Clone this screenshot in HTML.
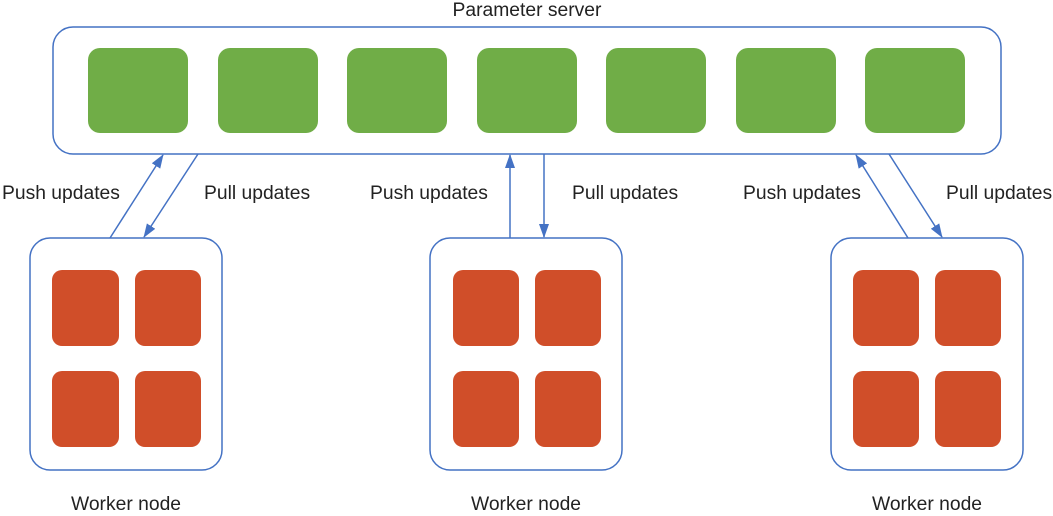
<!DOCTYPE html>
<html><head><style>
body{margin:0;background:#fff;}
svg text{font-family:"Liberation Sans",sans-serif;font-size:19.3px;fill:#222;}
</style></head><body>
<svg width="1053" height="511" xmlns="http://www.w3.org/2000/svg">
<defs><marker id="a" markerWidth="14" markerHeight="10" refX="13" refY="5" orient="auto" markerUnits="userSpaceOnUse"><path d="M0,0 L14,5 L0,10 z" fill="#4472c4"/></marker></defs>
<text x="527" y="16" text-anchor="middle">Parameter server</text>
<rect x="53" y="27" width="948" height="127" rx="20" fill="#fff" stroke="#4472c4" stroke-width="1.5"/>
<g fill="#70ad47">
<rect x="88" y="48" width="100" height="85" rx="12"/>
<rect x="218" y="48" width="100" height="85" rx="12"/>
<rect x="347" y="48" width="100" height="85" rx="12"/>
<rect x="477" y="48" width="100" height="85" rx="12"/>
<rect x="606" y="48" width="100" height="85" rx="12"/>
<rect x="736" y="48" width="100" height="85" rx="12"/>
<rect x="865" y="48" width="100" height="85" rx="12"/>
</g>
<g fill="#fff" stroke="#4472c4" stroke-width="1.5">
<rect x="30" y="238" width="192" height="232" rx="20"/>
<rect x="430" y="238" width="192" height="232" rx="20"/>
<rect x="831" y="238" width="192" height="232" rx="20"/>
</g>
<g fill="#d04e29">
<rect x="52" y="270" width="67" height="76" rx="10"/><rect x="135" y="270" width="66" height="76" rx="10"/>
<rect x="52" y="371" width="67" height="76" rx="10"/><rect x="135" y="371" width="66" height="76" rx="10"/>
<rect x="453" y="270" width="66" height="76" rx="10"/><rect x="535" y="270" width="66" height="76" rx="10"/>
<rect x="453" y="371" width="66" height="76" rx="10"/><rect x="535" y="371" width="66" height="76" rx="10"/>
<rect x="853" y="270" width="66" height="76" rx="10"/><rect x="935" y="270" width="66" height="76" rx="10"/>
<rect x="853" y="371" width="66" height="76" rx="10"/><rect x="935" y="371" width="66" height="76" rx="10"/>
</g>
<g stroke="#4472c4" stroke-width="1.5" marker-end="url(#a)">
<line x1="110" y1="238" x2="163" y2="155"/>
<line x1="198" y1="154" x2="144" y2="237"/>
<line x1="510" y1="238" x2="510" y2="155"/>
<line x1="544" y1="154" x2="544" y2="237"/>
<line x1="908" y1="238" x2="856" y2="155"/>
<line x1="889" y1="154" x2="942" y2="237"/>
</g>
<text x="2" y="199">Push updates</text>
<text x="204" y="199">Pull updates</text>
<text x="370" y="199">Push updates</text>
<text x="572" y="199">Pull updates</text>
<text x="743" y="199">Push updates</text>
<text x="946" y="199">Pull updates</text>
<text x="126" y="510" text-anchor="middle">Worker node</text>
<text x="526" y="510" text-anchor="middle">Worker node</text>
<text x="927" y="510" text-anchor="middle">Worker node</text>
</svg>
</body></html>
